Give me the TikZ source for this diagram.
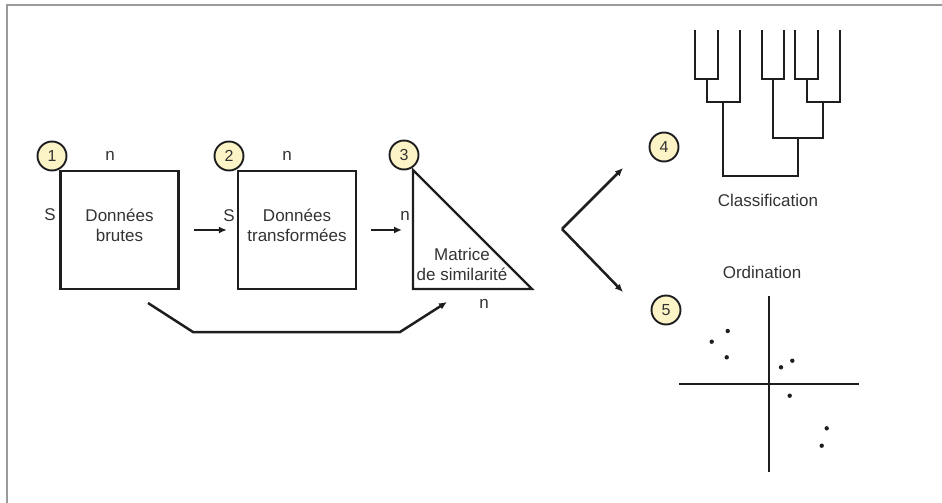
\documentclass[tikz,border=0pt]{standalone}
\usepackage{fontspec}
\setmainfont{Liberation Sans}
\usepackage{xcolor}
\usetikzlibrary{arrows.meta,positioning}
\definecolor{txtgray}{HTML}{333333}
\definecolor{numfill}{HTML}{FCF3C6}
\definecolor{framegray}{HTML}{9A9A9A}
\definecolor{ink}{HTML}{1E1E1E}
\tikzset{
  box/.style={rectangle, draw=ink, line width=2.2pt, minimum width=118pt,
              minimum height=118pt, align=center, text=txtgray, inner sep=0pt,
              text depth=10pt},
  num/.style={circle, draw=ink, line width=1.9pt, fill=numfill, minimum size=29pt,
              inner sep=0pt, text=txtgray, font=\fontsize{16}{18}\selectfont},
  lbl/.style={text=txtgray, inner sep=0pt, align=center},
  arr/.style={-{Latex[length=8pt,width=7pt]}, draw=ink, line width=2.5pt},
  tree/.style={draw=ink, line width=2pt},
  dot/.style={fill=ink}
}

\begin{document}
\begin{tikzpicture}[x=1pt, y=-1pt, font=\fontsize{17}{20}\selectfont]
  \useasboundingbox (0,0) rectangle (942,503);
  \draw[framegray, line width=2pt] (7,503) -- (7,5) -- (942,5);

  % data tables
  \node[box] (b1) at (119.5,230) {Données\\brutes};
  \node[box] (b2) at (297,230) {Données\\transformées};
  \coordinate (t1) at (413,170);
  \coordinate (t2) at (413,289);
  \coordinate (t3) at (532,289);
  \draw[draw=ink, line width=2.2pt, line join=miter] (t1) -- (t2) -- (t3) -- cycle;
  \node[lbl] (mat) at (462,264) {Matrice\\de similarité};

  \node[num] (n1) at (52,156) {1};
  \node[num] (n2) at (229,156) {2};
  \node[num] (n3) at (404,155) {3};
  \node[num] (n4) at (664,147) {4};
  \node[num] (n5) at (666,310) {5};

  \node[lbl] (d1) at (110,156) {n};
  \node[lbl] (s1) at (50,215) {S};
  \node[lbl] (d2) at (287,156) {n};
  \node[lbl] (s2) at (229,216) {S};
  \node[lbl] (d3) at (405,216) {n};
  \node[lbl] (d4) at (484,304) {n};

  \draw[arr, shorten <=14pt, shorten >=10pt] (b1.east) -- (b2.west);
  \draw[arr, shorten <=14pt, shorten >=11pt] (b2.east) -- (t1 |- b2.east);

  % direct path to the matrix
  \coordinate (p1) at (148,303);
  \coordinate (p2) at (193,332);
  \coordinate (p3) at (400,332);
  \coordinate (p4) at (447,302);
  \draw[arr, line join=miter] (p1) -- (p2) -- (p3) -- (p4);

  % fork
  \coordinate (fork) at (562,229);
  \coordinate (up) at (623,168);
  \coordinate (down) at (623,292);
  \draw[arr] (fork) -- (up);
  \draw[arr] (fork) -- (down);

  % dendrogram
  \foreach \xa/\ya/\xb/\yb/\yj in {695/30/718/30/79, 706.5/79/740/30/102,
      762/30/784/30/79, 795/30/818/30/79, 806.5/79/840/30/102,
      773/79/823/102/138, 723/102/798/138/176}
    \draw[tree] (\xa,\ya) |- (\xb,\yj) -- (\xb,\yb);
  \node[lbl] (cls) at (768,200) {Classification};

  % ordination
  \node[lbl] (ord) at (762,272) {Ordination};
  \draw[tree] (769,296) -- (769,472);
  \draw[tree] (679,384) -- (859,384);
  \foreach \px/\py in {711.7/341.7, 727.7/331, 726.7/357.3, 781/367.3,
      792.3/360.7, 789.7/395.7, 826.7/428.3, 821.7/445.7}
    \fill[dot] (\px,\py) circle (2.2);
\end{tikzpicture}
\end{document}
